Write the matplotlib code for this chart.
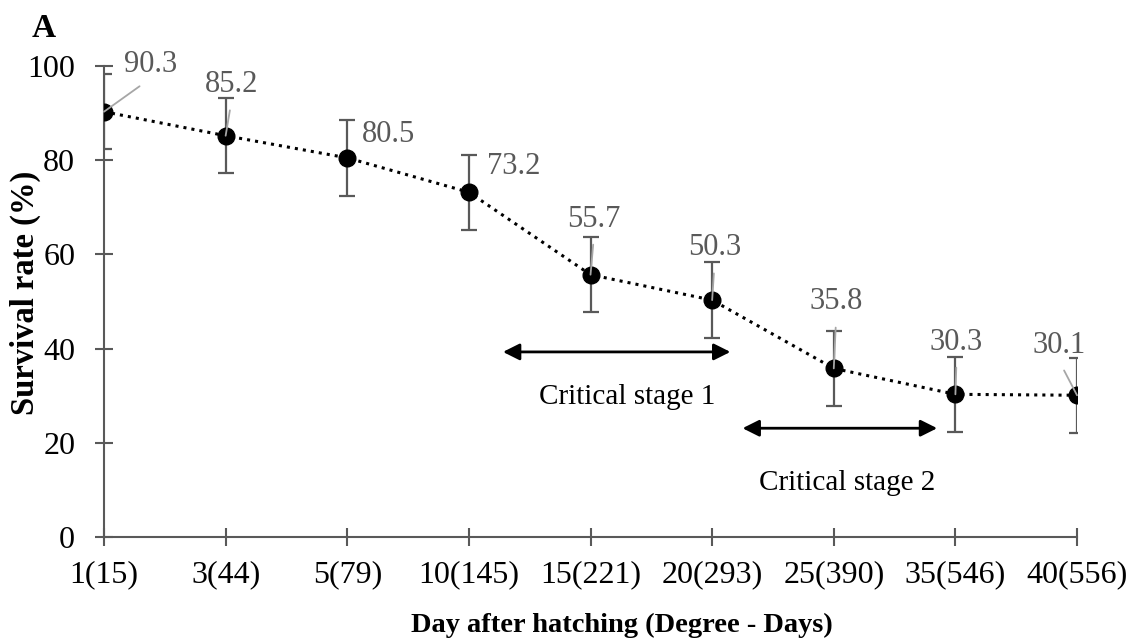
import matplotlib
matplotlib.use("Agg")
import matplotlib.pyplot as plt

plt.rcParams['font.family'] = ['Liberation Serif', 'DejaVu Serif']

# survival data
days = ['1(15)', '3(44)', '5(79)', '10(145)', '15(221)', '20(293)', '25(390)', '35(546)', '40(556)']
survival = [90.3, 85.2, 80.5, 73.2, 55.7, 50.3, 35.8, 30.3, 30.1]
err = [8, 8, 8, 8, 8, 8, 8, 8, 8]

# where each value label sits (data coords) and whether it gets a leader line
label_pos = [(0.38, 100.4), (1.05, 96.0), (2.34, 85.4), (3.37, 78.6), (4.03, 67.5),
             (5.02, 61.4), (6.02, 49.9), (7.01, 41.4), (7.85, 40.6)]
leader = [True, True, False, False, True, True, True, True, True]

grey = '#595959'

fig = plt.figure(figsize=(11.33, 6.44), dpi=100)
ax = fig.add_axes([0.0918, 0.1661, 0.8588, 0.7314])

x = list(range(len(days)))
ax.errorbar(x, survival, yerr=err, fmt='none', ecolor=grey, elinewidth=1.6,
            capsize=5.5, capthick=1.6, zorder=2)
ax.plot(x, survival, linestyle=':', color='black', linewidth=2.2, marker='o',
        markersize=12, zorder=3)

for i, v in enumerate(survival):
    lx, ly = label_pos[i]
    if leader[i]:
        ax.annotate(f'{v}', xy=(i, v), xytext=(lx, ly), ha='center', va='center',
                    fontsize=22, color=grey, annotation_clip=False,
                    arrowprops=dict(arrowstyle='-', color='#a6a6a6', lw=1.3,
                                    relpos=(0.5, 0.0), shrinkA=6, shrinkB=0),
                    zorder=4)
    else:
        ax.text(lx, ly, f'{v}', ha='center', va='center', fontsize=22, color=grey)

# critical stage arrows
ax.annotate('', xy=(3.28, 39.3), xytext=(5.15, 39.3),
            arrowprops=dict(arrowstyle='<|-|>', color='black', lw=2,
                            mutation_scale=25, shrinkA=0, shrinkB=0))
ax.text(4.30, 29.7, 'Critical stage 1', ha='center', va='center', fontsize=21)
ax.annotate('', xy=(5.25, 23.1), xytext=(6.85, 23.1),
            arrowprops=dict(arrowstyle='<|-|>', color='black', lw=2,
                            mutation_scale=25, shrinkA=0, shrinkB=0))
ax.text(6.11, 11.5, 'Critical stage 2', ha='center', va='center', fontsize=21)

ax.set_xlim(0, 8)
ax.set_ylim(0, 100)
ax.set_xticks(x)
ax.set_xticklabels(days)
ax.set_yticks(range(0, 101, 20))

for side in ['top', 'right']:
    ax.spines[side].set_visible(False)
for side in ['left', 'bottom']:
    ax.spines[side].set_color(grey)
    ax.spines[side].set_linewidth(1.5)
ax.tick_params(direction='inout', length=13.5, width=1.5, color=grey, labelsize=23)
ax.tick_params(axis='x', pad=10)
ax.tick_params(axis='y', pad=14)

fig.text(25 / 1133, 1 - 293 / 644, 'Survival rate (%)', rotation=90, ha='center',
         va='center', fontsize=23.5, fontweight='bold')
fig.text(622 / 1133, 1 - 625 / 644, 'Day after hatching (Degree - Days)', ha='center',
         va='center', fontsize=20.5, fontweight='bold')
fig.text(0.028, 0.9425, 'A', fontsize=24, fontweight='bold')

fig.savefig('out.png', dpi=100)
